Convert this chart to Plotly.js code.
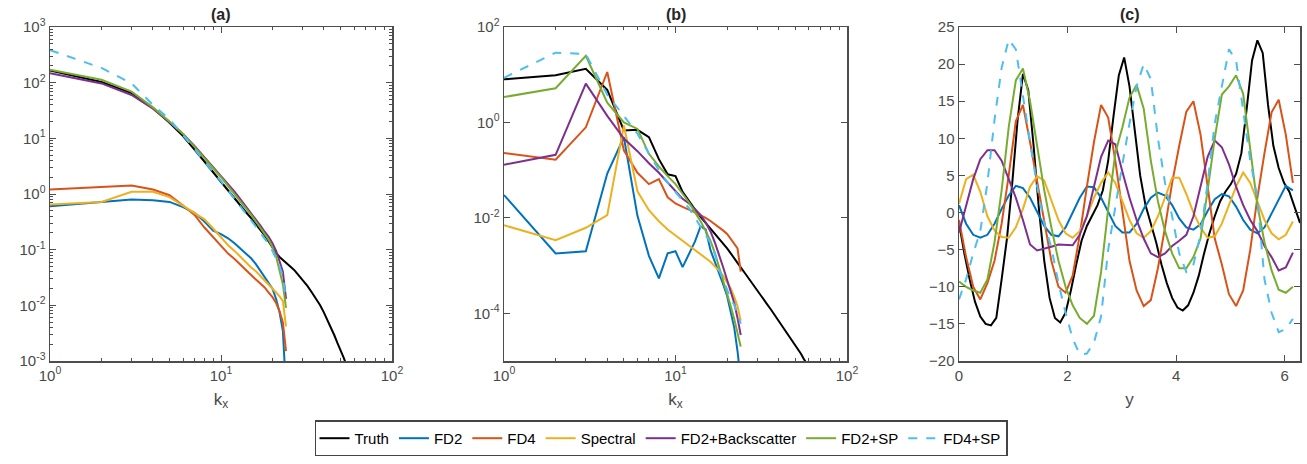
<!DOCTYPE html>
<html><head><meta charset="utf-8">
<script src="https://cdn.plot.ly/plotly-3.0.1.min.js"></script>
<style>html,body{margin:0;padding:0;background:#fff}#chart{width:1307px;height:464px}</style>
</head><body><div id="chart"></div><script>
// ---------- data ----------
const seriesNames = ['Truth','FD2','FD4','Spectral','FD2+Backscatter','FD2+SP','FD4+SP'];
const panelTitles = ['(a)','(b)','(c)'];

const kModel = [1,2,3,4,5,6,7,8,9,10,11,12,13,14,15,16,17,18,19,20,21,22,23,24];
const kTruth = [1,2,3,4,5,6,7,8,9,10,11,12,13,14,15,16,17,18,19,20,21,22,23,24,25,26,27,28,29,30,32,34,36,38,40,42,44,46,48,50,52,54,56,58,60,62,64];

// panel (a)
const truthA = [165,103,65,35,19,11,6.3,3.8,2.5,1.7,1.15,0.83,0.62,0.47,0.37,0.29,0.23,0.18,0.14,0.108,0.087,0.074,0.066,0.059,0.052,0.047,0.042,0.037,0.033,0.029,0.0224,0.017,0.0132,0.01,0.0074,0.0054,0.004,0.0029,0.0021,0.0016,0.00117,0.00087,0.00063,0.00047,0.00035,0.00025,0.00019];
const fd2A = [0.6,0.72,0.8,0.77,0.72,0.58,0.46,0.32,0.22,0.19,0.16,0.13,0.105,0.085,0.07,0.055,0.042,0.033,0.026,0.02,0.013,0.0075,0.0035,0.0003];
const fd4A = [1.2,1.32,1.42,1.2,0.95,0.62,0.42,0.25,0.17,0.12,0.085,0.068,0.053,0.043,0.035,0.029,0.025,0.021,0.017,0.014,0.011,0.0078,0.005,0.0015];
const spectralA = [0.65,0.72,1.1,1.1,0.88,0.62,0.45,0.35,0.24,0.17,0.12,0.095,0.075,0.058,0.048,0.041,0.034,0.028,0.024,0.02,0.017,0.0145,0.012,0.0042];
const backscatterA = [148,97,60,34,19.5,12,7.3,4.6,3.1,2.1,1.5,1.1,0.8,0.6,0.46,0.35,0.27,0.21,0.17,0.13,0.095,0.062,0.04,0.013];
const fd2spA = [170,113,69,36,20,12,7.0,4.3,2.9,2.0,1.4,1.0,0.75,0.56,0.42,0.32,0.25,0.19,0.15,0.11,0.075,0.042,0.024,0.009];
const fd4spA = [385,184,97,40,22,11.5,6.5,3.8,2.5,1.7,1.15,0.82,0.6,0.45,0.34,0.26,0.2,0.16,0.125,0.095,0.07,0.05,0.033,0.013];

// panel (b)
const truthB = [8.0,9.7,13.3,4.8,0.68,0.70,0.49,0.17,0.082,0.075,0.035,0.022,0.015,0.0105,0.0078,0.006,0.0047,0.0037,0.0029,0.0023,0.0018,0.0014,0.0011,0.00092,0.00075,0.00062,0.00051,0.00043,0.00036,0.00031,0.00022,0.00016,0.00012,0.00009,0.00007,0.000055,0.000043,0.000034,0.000027,0.000022,0.000018,0.000014,0.000011,0.0000092,0.0000076,0.0000063,0.0000052];
const fd2B = [0.03,0.0018,0.002,0.085,0.49,0.011,0.0016,0.00054,0.0018,0.002,0.00093,0.0017,0.0032,0.0066,0.0057,0.0021,0.0012,0.0007,0.0004,0.00023,0.00011,0.00005,0.000016,0.000004];
const fd4B = [0.23,0.166,0.79,11.4,0.26,0.088,0.051,0.065,0.027,0.02,0.017,0.015,0.013,0.0112,0.01,0.0086,0.0074,0.0063,0.0054,0.0046,0.0036,0.0028,0.0023,0.00075];
const spectralB = [0.007,0.0034,0.0062,0.0114,0.86,0.036,0.0145,0.0085,0.0057,0.0043,0.0033,0.0026,0.0021,0.0017,0.0014,0.0012,0.00095,0.00078,0.0006,0.00045,0.00033,0.00022,0.00014,0.00007];
const backscatterB = [0.13,0.21,6.5,1.37,0.46,0.25,0.14,0.088,0.055,0.037,0.025,0.02,0.015,0.0115,0.008,0.0052,0.003,0.0017,0.0009,0.0005,0.0003,0.000165,0.00008,0.000035];
const fd2spB = [3.4,5.2,24.8,2.6,1.0,0.73,0.22,0.12,0.075,0.051,0.032,0.021,0.013,0.0085,0.0053,0.0033,0.0018,0.00093,0.0005,0.00027,0.00014,0.000076,0.00004,0.00002];
const fd4spB = [8.6,29,27,3.8,1.37,0.58,0.22,0.1,0.055,0.034,0.023,0.016,0.01,0.0065,0.0045,0.003,0.0017,0.0008,0.0005,0.0003,0.0002,0.00015,0.0001,0.00006];

// panel (c)
const truthC = [-1.4,-5.5,-9.0,-12.0,-14.0,-15.0,-15.2,-14.2,-9.0,-3.5,4.0,12.5,18.7,16.5,9.0,0.5,-6.5,-11.5,-14.2,-14.8,-13.5,-10.5,-7.0,-3.8,-1.8,-0.3,1.0,3.0,7.0,13.0,18.5,20.9,17.0,11.0,5.0,1.0,-1.5,-4.0,-7.0,-9.5,-11.5,-12.8,-13.2,-12.5,-10.8,-8.5,-5.5,-2.8,-0.5,1.5,2.8,3.8,5.2,8.0,14.0,20.5,23.2,21.5,14.5,9.0,6.0,4.0,2.8,0.8,-1.4];
const fd2C = [1.0,-1.5,-3.0,-3.4,-3.0,-1.5,0.5,2.3,3.6,3.3,2.0,0.0,-1.8,-3.0,-3.2,-2.0,0.0,2.0,3.5,3.4,2.0,0.0,-1.8,-2.7,-2.7,-1.5,0.5,2.0,2.7,2.3,1.0,-0.8,-2.0,-2.3,-1.6,0.2,1.8,2.5,2.2,0.8,-1.0,-2.3,-2.8,-2.0,-0.2,1.8,3.6,3.0];
const fd4C = [-1.0,-6.0,-10.0,-11.7,-9.5,-6.5,-1.5,5.0,12.3,14.5,9.5,4.0,-1.0,-6.5,-10.0,-10.8,-8.5,-3.0,3.5,9.5,14.5,12.8,7.0,0.0,-6.5,-10.5,-12.6,-11.8,-7.5,-2.0,4.0,9.0,13.6,15.0,10.5,3.5,-3.5,-7.0,-11.0,-12.6,-10.5,-5.0,2.0,8.0,13.5,15.2,10.5,4.0];
const spectralC = [1.2,4.5,5.1,2.8,-0.5,-2.4,-3.3,-3.4,-2.0,0.5,3.5,4.9,4.3,1.5,-1.0,-2.8,-3.4,-2.5,-0.5,2.0,4.0,5.4,4.0,1.5,-1.0,-2.8,-3.4,-2.5,-0.5,2.0,4.7,4.7,2.5,0.0,-2.0,-3.4,-3.2,-1.5,1.0,3.5,5.4,4.0,1.5,-1.0,-2.8,-3.6,-3.0,-1.2];
const backscatterC = [-2.7,1.0,4.5,7.2,8.4,8.4,7.0,4.5,2.0,-1.0,-4.3,-5.1,-4.9,-4.6,-4.3,-4.4,-4.4,-3.0,-0.5,3.5,7.5,9.7,9.2,5.5,2.0,-1.0,-3.5,-5.5,-6.0,-5.5,-4.5,-3.8,-3.0,-0.5,3.5,7.5,9.7,8.8,6.5,3.5,1.0,-1.0,-2.5,-4.5,-6.0,-7.8,-7.4,-5.4];
const fd2spC = [-9.3,-10.0,-10.5,-10.8,-9.0,-4.0,3.0,11.5,17.8,19.4,15.0,9.0,3.0,-2.0,-6.5,-10.0,-12.5,-14.2,-15.0,-13.9,-8.0,0.5,8.0,11.5,15.5,17.2,14.0,7.0,1.5,-2.5,-5.5,-7.5,-7.5,-6.0,-3.5,3.0,10.0,15.9,17.0,18.5,16.0,8.5,1.0,-4.0,-7.8,-10.4,-10.8,-10.0];
const fd4spC = [-11.7,-9.0,-5.5,-2.5,4.0,12.5,19.5,23.3,22.0,15.5,9.5,3.5,-1.5,-4.7,-9.5,-13.5,-17.0,-19.1,-19.0,-17.5,-14.0,-5.0,1.0,6.5,12.0,17.0,20.0,18.0,10.0,4.0,-0.5,-5.5,-8.0,-7.0,-3.0,4.0,12.0,17.2,22.0,20.5,14.0,7.0,2.0,-9.0,-13.5,-16.1,-15.7,-14.3];

// tick labels
const logTickValsA = [1e-3,1e-2,1e-1,1,10,100,1000];
const logTickTextA = ['10<sup>-3</sup>','10<sup>-2</sup>','10<sup>-1</sup>','10<sup>0</sup>','10<sup>1</sup>','10<sup>2</sup>','10<sup>3</sup>'];
const logTickValsB = [1e-4,1e-2,1,100];
const logTickTextB = ['10<sup>-4</sup>','10<sup>-2</sup>','10<sup>0</sup>','10<sup>2</sup>'];
const kTickVals = [1,10,100];
const kTickText = ['10<sup>0</sup>','10<sup>1</sup>','10<sup>2</sup>'];
const yTickValsC = [-20,-15,-10,-5,0,5,10,15,20,25];
const xTickValsC = [0,2,4,6];

// ---------- styling ----------
const colors = ['#000000','#0072BD','#D95319','#EDB120','#7E2F8E','#77AC30','#4DBEEE'];
const dashes = ['solid','solid','solid','solid','solid','solid','dash'];
const FONT = 'Liberation Sans, Arial, Helvetica, sans-serif';
const AX = '#4d4d4d';
const TICKC = '#4a4a4a';

function minorLog(lo, hi){ const v=[]; for(let e=lo;e<hi;e++){ for(let m=2;m<=9;m++) v.push(m*Math.pow(10,e)); } return v; }

function baseAxis(extra){
  return Object.assign({
    showline:true, linecolor:AX, linewidth:1.5, mirror:'allticks',
    ticks:'inside', ticklen:6, tickwidth:1, tickcolor:AX,
    showgrid:false, zeroline:false,
    tickfont:{family:FONT, size:15, color:TICKC}
  }, extra);
}
const minorStyle = (vals)=>({tickmode:'array', tickvals:vals, ticks:'inside', ticklen:3, tickwidth:1, tickcolor:AX, showgrid:false});
const xTitle = (t)=>({text:t, font:{family:FONT, size:17, color:TICKC}, standoff:10});

// ---------- traces ----------
const traces = [];
const gridC48 = Array.from({length:fd2C.length}, (_,j)=> j*2*Math.PI/fd2C.length);
const gridTruthC = Array.from({length:truthC.length}, (_,j)=> j*2*Math.PI/(truthC.length-1));

const panels = [
  {xa:'x', ya:'y', xs:[kTruth,kModel,kModel,kModel,kModel,kModel,kModel], ys:[truthA,fd2A,fd4A,spectralA,backscatterA,fd2spA,fd4spA]},
  {xa:'x2', ya:'y2', xs:[kTruth,kModel,kModel,kModel,kModel,kModel,kModel], ys:[truthB,fd2B,fd4B,spectralB,backscatterB,fd2spB,fd4spB]},
  {xa:'x3', ya:'y3', xs:[gridTruthC,gridC48,gridC48,gridC48,gridC48,gridC48,gridC48], ys:[truthC,fd2C,fd4C,spectralC,backscatterC,fd2spC,fd4spC]}
];
panels.forEach((p,pi)=>{
  seriesNames.forEach((name,i)=>{
    traces.push({
      type:'scatter', mode:'lines', name:name, legendgroup:name, showlegend: pi===0,
      x:p.xs[i], y:p.ys[i], xaxis:p.xa, yaxis:p.ya,
      line:{color:colors[i], width:2, dash:dashes[i]}, hoverinfo:'skip'
    });
  });
});

// ---------- layout ----------
const W=1307, H=464, ML=50, MR=7, MT=27, MB=94;
const PW = W-ML-MR;
const dom = (a,b)=>[(a-ML)/PW, (b-ML)/PW];

const layout = {
  width:W, height:H, margin:{l:ML, r:MR, t:MT, b:MB},
  paper_bgcolor:'#fff', plot_bgcolor:'#fff',
  font:{family:FONT, color:'#262626'},
  showlegend:true,
  legend:{orientation:'h', x:(661-ML)/PW, xanchor:'center', y:-0.178, yanchor:'top',
          bordercolor:'#444', borderwidth:1.5, font:{family:FONT, size:15, color:'#000'},
          itemwidth:30, tracegroupgap:0, bgcolor:'#fff'},
  xaxis: baseAxis({domain:dom(50,392), anchor:'y', type:'log', range:[0,2], tickmode:'array', tickvals:kTickVals, ticktext:kTickText, minor:minorStyle(minorLog(0,2)),
          title:xTitle('k<sub>x</sub>')}),
  yaxis: baseAxis({domain:[0,1], anchor:'x', type:'log', range:[-3,3], tickmode:'array', tickvals:logTickValsA, ticktext:logTickTextA, minor:minorStyle(minorLog(-3,3))}),
  xaxis2: baseAxis({domain:dom(504,847), anchor:'y2', type:'log', range:[0,2], tickmode:'array', tickvals:kTickVals, ticktext:kTickText, minor:minorStyle(minorLog(0,2)),
          title:xTitle('k<sub>x</sub>')}),
  yaxis2: baseAxis({domain:[0,1], anchor:'x2', type:'log', range:[-5,2], tickmode:'array', tickvals:logTickValsB, ticktext:logTickTextB}),
  xaxis3: baseAxis({domain:dom(959,1300), anchor:'y3', range:[0,2*Math.PI], tickmode:'array', tickvals:xTickValsC,
          title:xTitle('y')}),
  yaxis3: baseAxis({domain:[0,1], anchor:'x3', range:[-20,25], tickmode:'array', tickvals:yTickValsC}),
  annotations: panelTitles.map((t,i)=>{
    const centers=[221,675.5,1129.5];
    return {text:'<b>'+t+'</b>', xref:'paper', yref:'paper', x:(centers[i]-ML)/PW, y:1, xanchor:'center', yanchor:'bottom', yshift:2,
            showarrow:false, font:{family:FONT, size:16, color:'#262626'}};
  })
};

Plotly.newPlot('chart', traces, layout, {staticPlot:true, displayModeBar:false});
</script></body></html>
